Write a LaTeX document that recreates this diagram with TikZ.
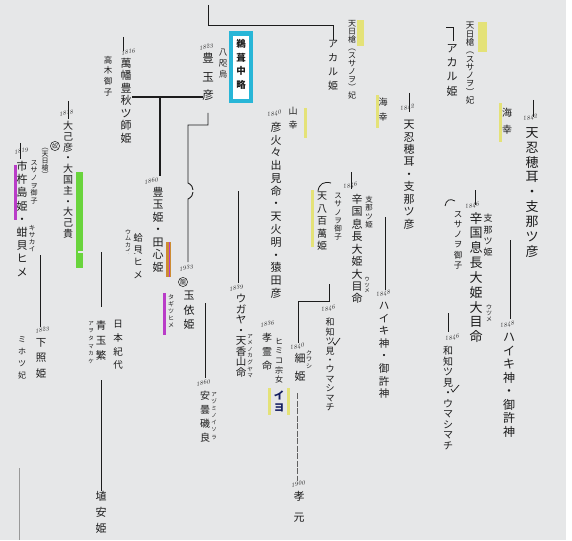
\documentclass[tikz,border=0pt]{standalone}
\usepackage{fontspec}
\newfontfamily\cjk{Noto Sans CJK JP}
\ExplSyntaxOn
\NewDocumentCommand\vt{O{1.1}m}{\vbox{\baselineskip=#1em\lineskip=0pt\lineskiplimit=-\maxdimen\tl_map_inline:nn{#2}{\hbox_to_wd:nn{1.2em}{\hss##1\hss}}}}
\ExplSyntaxOff
\definecolor{bg}{RGB}{230,231,232}
\definecolor{ink}{RGB}{28,28,28}
\definecolor{yhl}{RGB}{228,226,120}
\definecolor{ghl}{RGB}{105,212,60}
\definecolor{phl}{RGB}{185,60,200}
\definecolor{ohl}{RGB}{205,140,50}
\definecolor{chl}{RGB}{40,182,215}
\definecolor{navy}{RGB}{20,30,95}
\tikzset{
  vt/.style={inner sep=0pt, anchor=north, text=ink, font=\cjk\fontsize{#1}{#1}\selectfont},
  yr/.style={inner sep=0pt, text=ink, font=\fontsize{6}{6}\selectfont\itshape, rotate=12},
  ln/.style={draw=ink, line width=0.9pt},
  dl/.style={draw=ink, double=bg, double distance=1.3pt, line width=0.55pt},
  circ/.style={circle, draw=ink, line width=0.5pt, inner sep=0.4pt, text=ink, font=\cjk\fontsize{6}{6}\selectfont},
  arcp/.style={draw=ink, line width=0.8pt}
}
\begin{document}
\begin{tikzpicture}[x=1pt,y=-1pt]
\fill[bg] (0,0) rectangle (572,540);
\fill[white] (566,0) rectangle (572,540);
\useasboundingbox (0,0) rectangle (572,540);
% ---------- highlights ----------
\fill[yhl] (357,20) rectangle (364,46);
\fill[yhl] (478,22) rectangle (487,52);
\fill[yhl] (304,108) rectangle (306.5,138);
\fill[yhl] (311,190) rectangle (313.5,247);
\fill[yhl] (376,95) rectangle (378.5,128);
\fill[yhl] (499,103) rectangle (501.5,142);
\fill[yhl] (267.5,388) rectangle (270.5,415);
\fill[yhl] (286.5,388) rectangle (289.5,415);
\fill[ghl] (76,172) rectangle (83,268);
\fill[phl] (14,165) rectangle (16.5,220);
\fill[ohl] (166,242) rectangle (170.5,277);
\draw[phl, line width=0.8pt] (169.5,242) -- (169.5,277);
\fill[phl] (163,293) rectangle (165.5,335);
\draw[chl, line width=4.5pt, fill=white] (231,33.5) rectangle (251,101);
% ---------- left group ----------
\node[vt=11] (yorozu) at (126,58) {\vt[1.13]{萬幡豊秋ツ師姫}};
\node[vt=8.5] (takagi) at (108,56) {\vt[1.25]{高木御子}};
\node[yr] (y1816) at (128,52) {1816};
\node[vt=10] (onamuchi) at (68,121) {\vt[1.08]{大己彦・大国主・大己貴}};
\node[yr] (y1818) at (66,113) {1818};
\node[circ] (nu) at (55,146) {奴};
\node[vt=11] (ichiki) at (22,161) {\vt[1.2]{市杵島姫・蚶貝ヒメ}};
\node[yr] (y1819) at (21,151) {1819};
\node[vt=6.5] (kisa) at (32,225) {\vt[1.1]{キサカイ}};
\node[vt=7] (amehiL) at (45,148) {\vt[1.0]{︵天日槍︶}};
\node[vt=7] (susaL) at (34,160) {\vt[1.1]{スサノヲ御子}};
\node[vt=9.5] (umugai) at (138,233) {\vt[1.3]{蛤貝ヒメ}};
\node[vt=6] (umukana) at (128,229) {\vt[1.1]{ウムカイ}};
\node[vt=10.5] (shitateru) at (41,338) {\vt[1.5]{下照姫}};
\node[yr] (y1823a) at (42,330) {1823};
\node[vt=8] (miho) at (22,336) {\vt[1.5]{ミホツ妃}};
\node[vt=10.5] (aotama) at (101,320) {\vt[1.45]{青玉繁}};
\node[vt=5.5] (aotamakana) at (91,321) {\vt[1.4]{アヲタマカケ}};
\node[vt=9.5] (nihon) at (118,320) {\vt[1.45]{日本紀代}};
\node[vt=11] (haniyasu) at (101,491) {\vt[1.45]{埴安姫}};
% ---------- centre group ----------
\node[vt=11] (toyotamahime) at (158,187) {\vt[1.13]{豊玉姫・田心姫}};
\node[yr] (y1860a) at (151,181) {1860};
\node[circ] (ryu) at (183,282) {龍};
\node[yr] (y1933) at (186,268) {1933};
\node[vt=11] (tamayori) at (189,291) {\vt[1.3]{玉依姫}};
\node[vt=6] (tagitsu) at (171,294) {\vt[1.2]{タギツヒメ}};
\node[vt=11.5] (toyotamahiko) at (208,53) {\vt[1.6]{豊玉彦}};
\node[yr] (y1823b) at (206,47) {1823};
\node[vt=8.5] (yata) at (223,49) {\vt[1.3]{八咫烏}};
\node[vt=9.5] (ryaku) at (241,39) {\bfseries\vt[1.45]{鵜葺中略}};
\node[vt=10] (azumi) at (205,391) {\vt[1.4]{安曇磯良}};
\node[yr] (y1860b) at (203,383) {1860};
\node[vt=5.5] (azumikana) at (214,392) {\vt[1.3]{アヅミノイソラ}};
\node[vt=10.5] (ugaya) at (241,294) {\vt[1.0]{ウガヤ・天香山命}};
\node[yr] (y1839) at (236,288) {1839};
\node[vt=5.5] (kagukana) at (250,334) {\vt[1.2]{アメノカグヤマ}};
\node[vt=9] (yamasachi) at (293,107) {\vt[1.55]{山幸}};
\node[yr] (y1840a) at (274,114) {1840};
\node[vt=11] (hikoho) at (276,122) {\vt[1.16]{彦火々出見命・天火明・猿田彦}};
\node[vt=10] (korei) at (267,333) {\vt[1.4]{孝霊命}};
\node[yr] (y1836) at (267,324) {1836};
\node[vt=8] (himiko) at (279,338) {\vt[1.2]{ヒミコ宗女}};
\node[vt=10.5, text=navy] (iyo) at (279,391) {\bfseries\vt[1.1]{イヨ}};
\node[vt=11] (kuwashi) at (300,353) {\vt[1.6]{細姫}};
\node[yr] (y1840b) at (297,347) {1840};
\node[vt=6] (kuwashikana) at (309,350) {\vt[1.1]{クワシ}};
\node[vt=11] (kogen) at (299,491) {\vt[1.9]{孝元}};
\node[yr] (y1900) at (298,484) {1900};
% ---------- copy A ----------
\node[vt=8] (amehiA) at (352,20) {\vt[1.0]{天日槍︵スサノヲ︶妃}};
\node[vt=10] (akaruA) at (333,40) {\vt[1.4]{アカル姫}};
\node[vt=9] (umisachiA) at (383,98) {\vt[1.6]{海幸}};
\node[vt=11] (oshihoA) at (409,120) {\vt[1.13]{天忍穂耳・支那ツ彦}};
\node[yr] (y1842a) at (407,108) {1842};
\draw[arcp] (318,191) .. controls (319,184) and (324,181) .. (331,183);
\node[vt=10] (yaoyorozu) at (322,192) {\vt[1.25]{天八百萬姫}};
\node[vt=7.5] (susaA) at (338,193) {\vt[1.1]{スサノヲ御子}};
\node[vt=11] (karakuniA) at (357,194) {\vt[1.13]{辛国息長大姫大目命}};
\node[yr] (y1846a) at (350,186) {1846};
\node[vt=7.5] (shinaA) at (369,196) {\vt[1.1]{支那ツ姫}};
\node[vt=5.5] (utsumeA) at (367,277) {\vt[1.0]{ウツメ}};
\node[vt=10.5] (haikiA) at (384,302) {\vt[1.2]{ハイキ神・御許神}};
\node[yr] (y1848a) at (383,294) {1848};
\node[vt=9] (wachiA) at (330,318) {\vt[1.05]{和知ツ見・ウマシマチ}};
\node[yr] (y1846b) at (328,309) {1846};
% ---------- copy B ----------
\node[vt=8.5] (amehiB) at (470,22) {\vt[0.98]{天日槍︵スサノヲ︶妃}};
\node[vt=11] (akaruB) at (452,44) {\vt[1.3]{アカル姫}};
\node[vt=10] (umisachiB) at (507,108) {\vt[1.7]{海幸}};
\node[vt=13] (oshihoB) at (532,127) {\vt[1.15]{天忍穂耳・支那ツ彦}};
\node[yr] (y1842b) at (530,118) {1842};
\draw[arcp] (445,206) .. controls (446,200) and (450,198) .. (455,201);
\node[vt=8.5] (susaB) at (458,211) {\vt[1.2]{スサノヲ御子}};
\node[vt=13] (karakuniB) at (476,212) {\vt[1.14]{辛国息長大姫大目命}};
\node[yr] (y1846c) at (472,206) {1846};
\node[vt=9] (shinaB) at (488,214) {\vt[1.25]{支那ツ姫}};
\node[vt=6] (utsumeB) at (489,304) {\vt[1.0]{ウツメ}};
\node[vt=12] (haikiB) at (509,333) {\vt[1.13]{ハイキ神・御許神}};
\node[yr] (y1848b) at (507,325) {1848};
\node[vt=10] (wachiB) at (448,346) {\vt[1.05]{和知ツ見・ウマシマチ}};
\node[yr] (y1846d) at (452,338) {1846};
% ---------- connectors ----------
\coordinate (topA) at (208,5);
\coordinate (bendA) at (208,25);
\coordinate (bendB) at (333,25);
\draw[ln] (topA) -- (bendA) -- (bendB) -- (akaruA.north);
\draw[ln, line width=1pt] (446,28) -- (453,28) -- (453,41);
\draw[ln] (123,37) -- (123,51);
\draw[ln] (68,101) -- (68,119);
\draw[ln] (20,143) -- (20,159);
\draw[ln] (409,93) -- (409,112);
\draw[ln] (533,100) -- (533,117);
\draw[ln] (351,172) -- (351,189);
\draw[ln] (475,190) -- (475,205);
\draw[ln, line width=1.6pt] (132,97) -- (203,97);
\draw[ln, line width=1.1pt] (160,97) -- (160,176);
\draw[ln] (208,113) -- (208,125) -- (188,125) -- (188,183) .. controls (195,186) and (195,196) .. (188,199) -- (188,262);
\draw[dl] (166,191) -- (263,191);
\draw[ln] (238,191) -- (238,283);
\draw[dl] (196,303) -- (222,303);
\draw[ln] (205,303) -- (205,378);
\draw[dl] (30,255) -- (62,255);
\draw[ln] (40,255) -- (40,327);
\draw[dl] (78,252) -- (137,252);
\draw[ln] (101,252) -- (101,307);
\draw[ln] (101,380) -- (haniyasu.north);
\draw[dl] (113,502) -- (288,502);
\draw[ln, draw=ink!70, line width=0.6pt, dash pattern=on 6pt off 1.5pt] (297,393) -- (297,481);
\draw[ln, draw=ink!45, line width=0.6pt] (19,468) -- (19,540);
\draw[dl] (373,217) -- (398,217);
\draw[ln] (385,217) -- (385,290);
\draw[dl] (283,284) -- (347,284);
\draw[ln] (329,284) -- (329,301) -- (298,301) -- (298,343);
\draw[dl] (495,240) -- (522,240);
\draw[ln] (510,240) -- (510,319);
\draw[dl] (445,313) -- (465,313);
\draw[ln] (448,313) -- (448,332);
% check marks
\draw[ln, line width=0.7pt] (333,342) -- (335,345) -- (340,338);
\draw[ln, line width=0.7pt] (451,389) -- (453,392) -- (459,385);
\end{tikzpicture}
\end{document}
